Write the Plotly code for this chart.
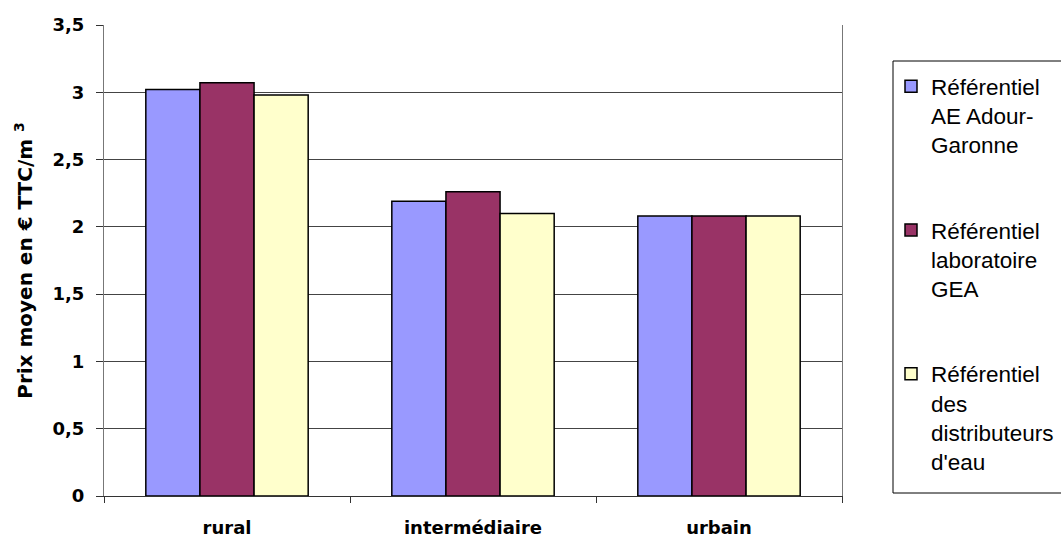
import plotly.graph_objects as go

# Water price by commune type, three reference sources
categories = ["rural", "intermédiaire", "urbain"]
ae_adour_garonne = [3.02, 2.19, 2.08]
labo_gea = [3.07, 2.26, 2.08]
distributeurs = [2.98, 2.10, 2.08]

series_names = [
    "Référentiel<br>AE Adour-<br>Garonne",
    "Référentiel<br>laboratoire<br>GEA",
    "Référentiel<br>des<br>distributeurs<br>d'eau",
]
series_values = [ae_adour_garonne, labo_gea, distributeurs]
series_colors = ["#9999FF", "#993366", "#FFFFCC"]

y_ticks = [0, 0.5, 1, 1.5, 2, 2.5, 3, 3.5]

AXIS_FONT = "'DejaVu Sans', sans-serif"
LEGEND_FONT = "Arial, 'Liberation Sans', sans-serif"

fig = go.Figure()
for i, (name, vals, col) in enumerate(zip(series_names, series_values, series_colors)):
    fig.add_trace(go.Bar(
        x=categories,
        y=vals,
        name=name,
        legendgroup=f"g{i}",
        marker=dict(color=col, line=dict(color="#000000", width=1.5)),
    ))

# legend frame, running past the right edge of the figure
fig.add_shape(
    type="rect", xref="paper", yref="paper",
    x0=(893 - 104) / 738, x1=(1070 - 104) / 738,
    y0=(496 - 493) / 471, y1=(496 - 61) / 471,
    line=dict(color="#000000", width=1),
    fillcolor="white", layer="below",
)

fig.update_layout(
    width=1061,
    height=540,
    margin=dict(l=104, r=219, t=25, b=44, autoexpand=False),
    paper_bgcolor="white",
    plot_bgcolor="white",
    separators=", ",
    barmode="group",
    bargap=0.34,
    bargroupgap=0,
    font=dict(family=AXIS_FONT, color="#000000"),
    showlegend=True,
    legend=dict(
        x=(891 - 104) / 738,
        y=(496 - 65) / 471,
        xanchor="left",
        yanchor="top",
        borderwidth=0,
        bgcolor="rgba(0,0,0,0)",
        font=dict(family=LEGEND_FONT, size=22.5, color="#000000"),
        valign="top",
        tracegroupgap=53,
        traceorder="grouped",
    ),
)

fig.update_xaxes(
    showline=True,
    linecolor="#333333",
    linewidth=1,
    ticks="outside",
    tickson="boundaries",
    ticklen=6,
    tickcolor="#333333",
    ticklabelstandoff=15,
    tickfont=dict(family=AXIS_FONT, size=18, color="#000000", weight="bold"),
    showgrid=False,
)

fig.update_yaxes(
    range=[0, 3.5],
    tickvals=y_ticks,
    showline=True,
    mirror=True,
    linecolor="#777777",
    linewidth=1,
    ticks="outside",
    ticklen=7,
    tickcolor="#333333",
    ticklabelstandoff=8,
    tickfont=dict(family=AXIS_FONT, size=18, color="#000000", weight="bold"),
    showgrid=True,
    gridcolor="#444444",
    gridwidth=1,
    zeroline=False,
    title=dict(
        text="Prix moyen en € TTC/m <sup>3</sup>",
        font=dict(family=AXIS_FONT, size=20, color="#000000", weight="bold"),
        standoff=14,
    ),
)

fig.write_html("out.html")
